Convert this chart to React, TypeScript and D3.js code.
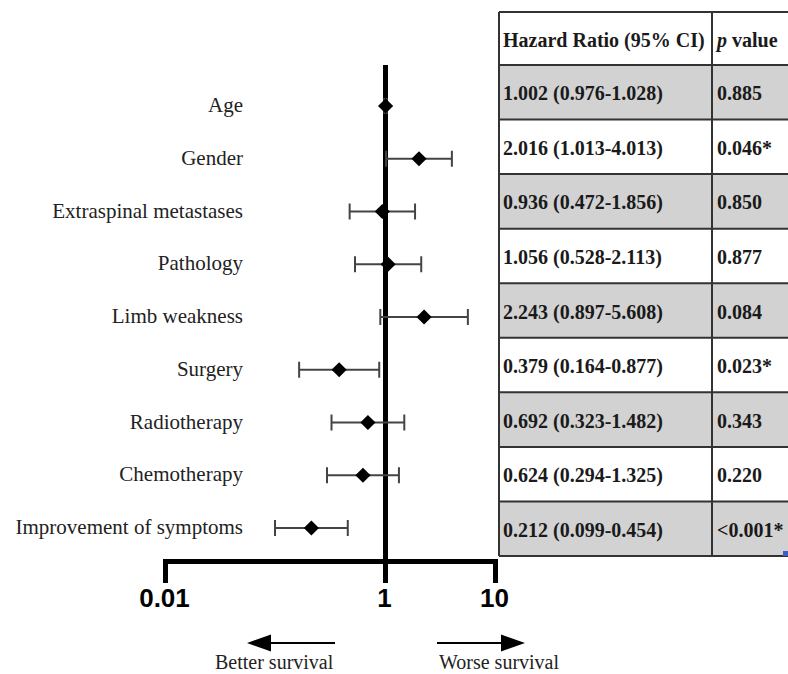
import React, { useEffect, useRef } from "react";
import * as d3 from "d3";

const factors = [
  "Age",
  "Gender",
  "Extraspinal metastases",
  "Pathology",
  "Limb weakness",
  "Surgery",
  "Radiotherapy",
  "Chemotherapy",
  "Improvement of symptoms",
];
const hazardRatio = [1.002, 2.016, 0.936, 1.056, 2.243, 0.379, 0.692, 0.624, 0.212];
const ciLower = [0.976, 1.013, 0.472, 0.528, 0.897, 0.164, 0.323, 0.294, 0.099];
const ciUpper = [1.028, 4.013, 1.856, 2.113, 5.608, 0.877, 1.482, 1.325, 0.454];
const pValues = ["0.885", "0.046*", "0.850", "0.877", "0.084", "0.023*", "0.343", "0.220", "<0.001*"];
const axisTicks = [0.01, 1, 10];

const W = 788;
const H = 674;

const App = () => {
  const ref = useRef<SVGSVGElement>(null);

  useEffect(() => {
    const svg = d3.select(ref.current);
    svg.selectAll("*").remove();

    const rows = factors.map((f, i) => ({
      name: f,
      hr: hazardRatio[i],
      lo: ciLower[i],
      hi: ciUpper[i],
      p: pValues[i],
    }));

    const x = d3.scaleLog().domain([0.01, 10]).range([165.5, 495.5]);
    const y = d3.scalePoint().domain(factors).range([106, 528]);
    const tableY = d3.scaleBand().domain(factors).range([65, 556]);

    const serif = "'Liberation Serif', 'Times New Roman', serif";
    const axisY = 561.5;

    // ---- table ----
    const tLeft = 499;
    const tMid = 712;
    const tRight = 800;
    const tTop = 12;
    const tbl = svg.append("g");

    tbl
      .selectAll("rect.row")
      .data(rows)
      .enter()
      .append("rect")
      .attr("x", tLeft)
      .attr("y", (d) => tableY(d.name)!)
      .attr("width", tRight - tLeft)
      .attr("height", tableY.bandwidth())
      .attr("fill", (d, i) => (i % 2 === 0 ? "#d2d2d2" : "#fff"));

    const hLines = [tTop, ...rows.map((d) => tableY(d.name)!), tableY.range()[1]];
    tbl
      .selectAll("line.h")
      .data(hLines)
      .enter()
      .append("line")
      .attr("x1", tLeft)
      .attr("x2", tRight)
      .attr("y1", (d) => d)
      .attr("y2", (d) => d)
      .attr("stroke", "#333")
      .attr("stroke-width", 2);

    [tLeft, tMid].forEach((vx) => {
      tbl
        .append("line")
        .attr("x1", vx)
        .attr("x2", vx)
        .attr("y1", tTop)
        .attr("y2", tableY.range()[1])
        .attr("stroke", "#333")
        .attr("stroke-width", 2);
    });

    const header = tbl
      .append("g")
      .attr("font-family", serif)
      .attr("font-weight", "bold")
      .attr("font-size", 20)
      .attr("fill", "#1a1a1a");
    header.append("text").attr("x", tLeft + 4).attr("y", 47).text("Hazard Ratio (95% CI)");
    const pt = header.append("text").attr("x", tMid + 5).attr("y", 47);
    pt.append("tspan").attr("font-style", "italic").text("p");
    pt.append("tspan").text(" value");

    const cell = tbl
      .append("g")
      .attr("font-family", serif)
      .attr("font-weight", "bold")
      .attr("font-size", 20)
      .attr("fill", "#1a1a1a");
    cell
      .selectAll("text.hr")
      .data(rows)
      .enter()
      .append("text")
      .attr("x", tLeft + 4)
      .attr("y", (d) => tableY(d.name)! + tableY.bandwidth() / 2 + 8)
      .text((d) => `${d.hr.toFixed(3)} (${d.lo.toFixed(3)}-${d.hi.toFixed(3)})`);
    cell
      .selectAll("text.p")
      .data(rows)
      .enter()
      .append("text")
      .attr("x", tMid + 5)
      .attr("y", (d) => tableY(d.name)! + tableY.bandwidth() / 2 + 8)
      .text((d) => d.p);

    // small blue mark at the table corner
    tbl.append("rect").attr("x", 783).attr("y", 551).attr("width", 6).attr("height", 5).attr("fill", "#3a5fc8");

    // ---- labels ----
    svg
      .append("g")
      .attr("font-family", serif)
      .attr("font-size", 21)
      .attr("fill", "#222")
      .attr("text-anchor", "end")
      .selectAll("text")
      .data(rows)
      .enter()
      .append("text")
      .attr("x", 243)
      .attr("y", (d) => y(d.name)! + 6)
      .text((d) => d.name);

    // ---- axis ----
    svg
      .append("line")
      .attr("x1", x(1))
      .attr("x2", x(1))
      .attr("y1", 65)
      .attr("y2", axisY)
      .attr("stroke", "#000")
      .attr("stroke-width", 5);

    const [x0, x1] = x.range();
    svg
      .append("path")
      .attr("d", `M${x0},583V${axisY}H${x1}V583`)
      .attr("fill", "none")
      .attr("stroke", "#000")
      .attr("stroke-width", 5)
      .attr("stroke-linejoin", "miter");
    svg
      .append("line")
      .attr("x1", x(1))
      .attr("x2", x(1))
      .attr("y1", axisY)
      .attr("y2", 583)
      .attr("stroke", "#000")
      .attr("stroke-width", 5);

    svg
      .append("g")
      .attr("font-family", "'Liberation Sans', Arial, sans-serif")
      .attr("font-weight", "bold")
      .attr("font-size", 26)
      .attr("text-anchor", "middle")
      .selectAll("text")
      .data(axisTicks)
      .enter()
      .append("text")
      .attr("x", (d) => x(d) - 1)
      .attr("y", 607)
      .text((d) => String(d));

    // ---- CI bars ----
    const ci = svg.append("g").attr("stroke", "#444").attr("stroke-width", 2);
    ci.selectAll("line.ci")
      .data(rows)
      .enter()
      .append("line")
      .attr("x1", (d) => x(d.lo))
      .attr("x2", (d) => x(d.hi))
      .attr("y1", (d) => y(d.name)!)
      .attr("y2", (d) => y(d.name)!);
    ["lo", "hi"].forEach((k) => {
      ci.selectAll(`line.cap-${k}`)
        .data(rows)
        .enter()
        .append("line")
        .attr("x1", (d: any) => x(d[k]))
        .attr("x2", (d: any) => x(d[k]))
        .attr("y1", (d) => y(d.name)! - 8)
        .attr("y2", (d) => y(d.name)! + 8);
    });

    const diamond = d3.symbol().type(d3.symbolSquare).size(115);
    svg
      .append("g")
      .selectAll("path")
      .data(rows)
      .enter()
      .append("path")
      .attr("d", diamond)
      .attr("transform", (d) => `translate(${x(d.hr)},${y(d.name)}) rotate(45)`)
      .attr("fill", "#000");

    // ---- direction arrows ----
    const ay = 643;
    const arr = svg.append("g");
    arr.append("line").attr("x1", 268).attr("x2", 335).attr("y1", ay).attr("y2", ay).attr("stroke", "#000").attr("stroke-width", 2);
    arr.append("path").attr("d", `M247,${ay}L271,${ay - 8.5}L271,${ay + 8.5}Z`).attr("fill", "#000");
    arr.append("line").attr("x1", 437).attr("x2", 504).attr("y1", ay).attr("y2", ay).attr("stroke", "#000").attr("stroke-width", 2);
    arr.append("path").attr("d", `M525,${ay}L501,${ay - 8.5}L501,${ay + 8.5}Z`).attr("fill", "#000");

    const bt = svg.append("g").attr("font-family", serif).attr("font-size", 20).attr("fill", "#222");
    bt.append("text").attr("x", 215).attr("y", 669).text("Better survival");
    bt.append("text").attr("x", 439).attr("y", 669).text("Worse survival");
  }, []);

  return (
    <svg
      ref={ref}
      width={W}
      height={H}
      style={{ position: "absolute", left: 0, top: 0, background: "#fff" }}
    />
  );
};

export default App;
